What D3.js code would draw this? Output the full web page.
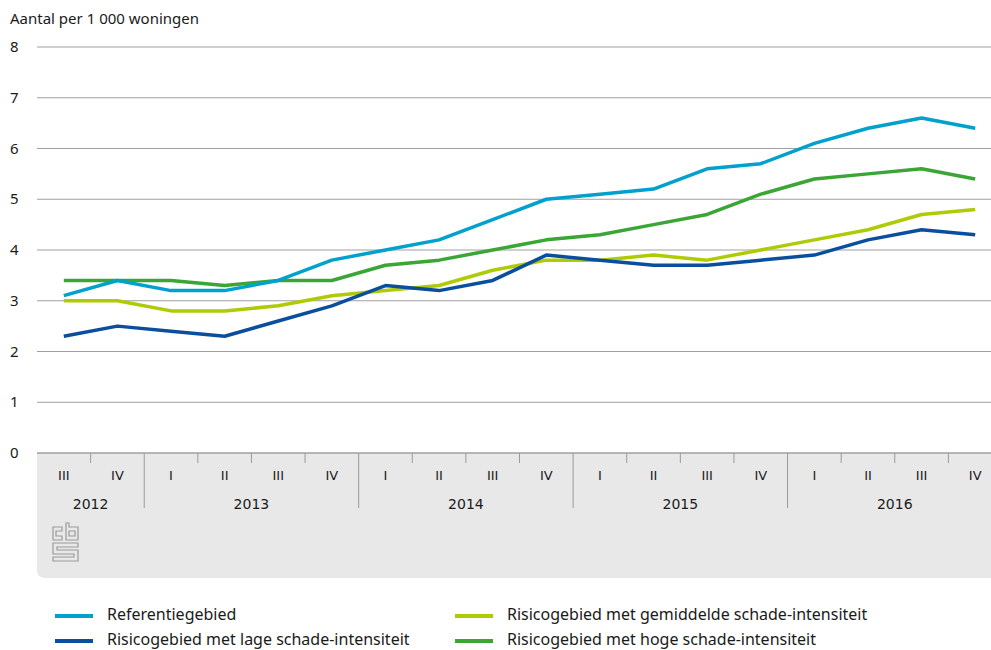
<!DOCTYPE html>
<html>
<head>
<meta charset="utf-8">
<script src="https://d3js.org/d3.v7.min.js"></script>
<style>
    body { margin: 0; background: #fff; }
    svg { display: block; }
    .lbl { font-family: 'Noto Sans', sans-serif; fill: #1a1a1a; }
    .xlbl { font-family: 'DejaVu Sans', sans-serif; fill: #1a1a1a; }
</style>
</head>
<body>
<div id="chart"></div>
<script>
// quarters from 2012 III to 2016 IV
const quarters = ["III","IV","I","II","III","IV","I","II","III","IV","I","II","III","IV","I","II","III","IV"];
const years = ["2012","2012","2013","2013","2013","2013","2014","2014","2014","2014","2015","2015","2015","2015","2016","2016","2016","2016"];
const yTicks = [0, 1, 2, 3, 4, 5, 6, 7, 8];

const referentie = [3.1, 3.4, 3.2, 3.2, 3.4, 3.8, 4.0, 4.2, 4.6, 5.0, 5.1, 5.2, 5.6, 5.7, 6.1, 6.4, 6.6, 6.4];
const lage       = [2.3, 2.5, 2.4, 2.3, 2.6, 2.9, 3.3, 3.2, 3.4, 3.9, 3.8, 3.7, 3.7, 3.8, 3.9, 4.2, 4.4, 4.3];
const gemiddeld  = [3.0, 3.0, 2.8, 2.8, 2.9, 3.1, 3.2, 3.3, 3.6, 3.8, 3.8, 3.9, 3.8, 4.0, 4.2, 4.4, 4.7, 4.8];
const hoge       = [3.4, 3.4, 3.4, 3.3, 3.4, 3.4, 3.7, 3.8, 4.0, 4.2, 4.3, 4.5, 4.7, 5.1, 5.4, 5.5, 5.6, 5.4];

const seriesNames = ["Referentiegebied", "Risicogebied met lage schade-intensiteit",
    "Risicogebied met gemiddelde schade-intensiteit", "Risicogebied met hoge schade-intensiteit"];
const seriesColors = ["#00a1cd", "#0a4f9e", "#afcb05", "#3ba535"];
const seriesValues = [referentie, lage, gemiddeld, hoge];
// drawing order: green under the blues
const drawOrder = [3, 2, 0, 1];

const W = 991, H = 650;
const pLeft = 37, pRight = 1002, pTop = 47, pBottom = 453;

const svg = d3.select("#chart").append("svg")
    .attr("width", W).attr("height", H);

const idx = d3.range(quarters.length);
const x = d3.scaleBand().domain(idx).range([pLeft, pRight]);
const y = d3.scaleLinear().domain([0, 8]).range([pBottom, pTop]);

// grey x-axis panel
svg.append("path")
    .attr("fill", "#e8e8e8")
    .attr("d", `M${pLeft},${pBottom} H${W} V578 H${pLeft + 8} Q${pLeft},578 ${pLeft},570 Z`);

// gridlines + y labels
svg.append("g").selectAll("line").data(yTicks).join("line")
    .attr("x1", pLeft).attr("x2", W)
    .attr("y1", d => y(d)).attr("y2", d => y(d))
    .attr("stroke", "#a0a0a0")
    .attr("stroke-width", d => d === 0 ? 1.5 : 1);

svg.append("g").selectAll("text").data(yTicks).join("text")
    .attr("class", "lbl")
    .attr("x", 10).attr("y", d => y(d) + 5)
    .attr("font-size", 15)
    .text(d => d);

svg.append("text").attr("class", "lbl")
    .attr("x", 10).attr("y", 24).attr("font-size", 15)
    .text("Aantal per 1 000 woningen");

// quarter ticks and year separators
svg.append("g").selectAll("line").data(idx.slice(1)).join("line")
    .attr("x1", d => x(d)).attr("x2", d => x(d))
    .attr("y1", pBottom)
    .attr("y2", d => years[d] !== years[d - 1] ? 508 : 463)
    .attr("stroke", "#9a9a9a").attr("stroke-width", 1);

svg.append("g").selectAll("text").data(idx).join("text")
    .attr("class", "xlbl")
    .attr("x", d => x(d) + x.bandwidth() / 2).attr("y", 480)
    .attr("text-anchor", "middle").attr("font-size", 13)
    .text(d => quarters[d]);

const yearGroups = d3.groups(idx, d => years[d]);
svg.append("g").selectAll("text").data(yearGroups).join("text")
    .attr("class", "xlbl")
    .attr("x", d => (x(d[1][0]) + x(d[1][d[1].length - 1]) + x.bandwidth()) / 2)
    .attr("y", 509)
    .attr("text-anchor", "middle").attr("font-size", 14)
    .text(d => d[0]);

// cbs logo
const logo = svg.append("g").attr("fill", "none").attr("stroke", "#9a9a9a").attr("stroke-width", 1.2);
logo.append("path").attr("d", "M53,527 H62 V531 H56 V536 H62 V540 H53 Z");
logo.append("path").attr("d", "M66,523 H69 V527 H78 V540 H66 Z M69,531 V536 H75 V531 Z");
logo.append("path").attr("d", "M53,543 H78 V547 H57 V550 H78 V561 H53 V557 H74 V554 H53 Z");

// lines
const line = d3.line()
    .x((d, i) => x(i) + x.bandwidth() / 2)
    .y(d => y(d));

drawOrder.forEach(s => {
    svg.append("path")
        .datum(seriesValues[s])
        .attr("fill", "none")
        .attr("stroke", seriesColors[s])
        .attr("stroke-width", 3.5)
        .attr("stroke-linejoin", "round")
        .attr("d", line);
});

// legend
const legendPos = [[55, 616], [55, 641], [455, 616], [455, 641]];
seriesNames.forEach((name, i) => {
    const [lx, ly] = legendPos[i];
    svg.append("line")
        .attr("x1", lx).attr("x2", lx + 38)
        .attr("y1", ly).attr("y2", ly)
        .attr("stroke", seriesColors[i]).attr("stroke-width", 4);
    svg.append("text").attr("class", "lbl")
        .attr("x", lx + 52).attr("y", ly + 4)
        .attr("font-size", 16)
        .text(name);
});
</script>
</body>
</html>
